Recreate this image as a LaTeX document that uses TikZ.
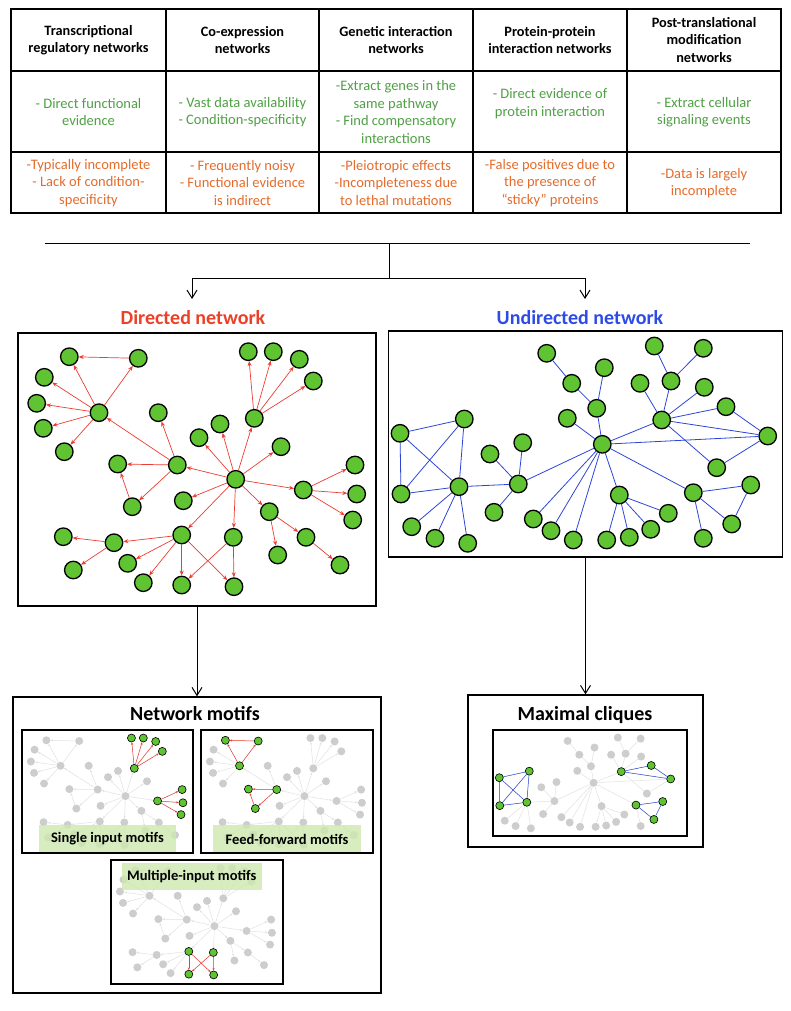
\documentclass[tikz,border=0pt]{standalone}
\usepackage{fontspec}
\setmainfont{Carlito}
\usetikzlibrary{arrows.meta}
\definecolor{gfill}{RGB}{95,195,50}
\definecolor{gtext}{RGB}{80,160,70}
\definecolor{otext}{RGB}{228,108,45}
\definecolor{redE}{RGB}{238,60,50}
\definecolor{blueE}{RGB}{45,70,215}
\definecolor{titleR}{RGB}{235,65,40}
\definecolor{titleB}{RGB}{45,75,230}
\definecolor{lgray}{RGB}{205,205,205}
\definecolor{egray}{RGB}{225,225,225}
\definecolor{lbl}{RGB}{205,232,175}

\def\DirNodes{n1/69.3/356.7,n2/138.3/358.3,n3/44.3/377.3,n4/36.7/403.3,n5/43.3/428.3,n6/64.3/451.7,hA/99/412.7,n7/158.3/412.7,n8/117.7/464,hB/177.3/465,n9/132.3/506.7,n10/199/437.7,n11/220/424,hC/254.3/418.3,n12/248.3/351.7,n13/273.3/351.7,n14/299.3/359.3,n15/313.3/381,n16/281/446.7,c/235.7/479.3,n17/183.3/500.7,hD/303.3/490,n18/355/465,n19/356.7/494,n20/352.7/520,hE/269.3/511.7,n21/306/537.3,n22/277.7/555,n23/340/565,hF/181.7/535,n24/233.3/537.3,hG/114/542.7,n25/63.3/536.7,n26/73.3/570,n27/127.7/563.3,n28/143.3/582.7,n29/181.7/585,n30/234/586.7}
\def\DirEdges{n2/n1,hA/n1,hA/n2,hA/n3,hA/n4,hA/n5,hA/n6,hB/hA,hB/n7,hB/n8,n9/n8,hB/n9,c/hB,c/n10,c/n11,c/hC,hC/n12,hC/n13,hC/n14,hC/n15,c/n16,c/n17,c/hD,hD/n18,hD/n19,hD/n20,c/hE,hE/n21,hE/n22,n21/n23,c/hF,c/n24,hF/hG,hG/n25,hG/n26,hF/n27,hF/n28,hF/n29,hF/n30,n24/n29,n24/n30}
\def\UndNodes{u1/546.7/353.3,u2/571.7/383.3,u3/604.3/367.7,u4/596.7/408.3,u5/567.3/418.3,C/602.3/444.3,u6/654.3/346,u7/703.3/348.3,u8/671/381,u9/640/383.3,u10/704.3/387.3,u11/726/406.7,H/661.7/420,u12/767.7/436,u13/716.7/467.7,L1/400/433.3,L2/464.3/419,L3/401/494,L4/459/486.7,u14/411.7/526.7,u15/435/538.3,u16/467.7/543.3,M/518.3/484,u17/490/454,u18/522.7/442.7,u19/494/512.3,u20/533.3/519,u21/551/530.7,u22/573.3/540,u23/619.3/495,u24/606.7/540,u25/629.3/537.3,u26/650.7/529.3,u27/668.3/513.3,u28/693.3/492.7,u29/750.7/485,u30/731.7/524,u31/703.3/538.3}
\def\UndEdges{u1/u2,u2/u4,u3/u4,u4/C,u5/C,C/H,C/u12,C/M,C/u20,C/u21,C/u22,C/u23,C/u28,H/u8,u8/u6,u8/u7,H/u9,H/u10,H/u11,H/u12,H/u13,u11/u12,u13/u12,L1/L2,L1/L3,L1/L4,L2/L3,L2/L4,L3/L4,L4/u14,L4/u15,L4/u16,L4/M,M/u17,M/u18,M/u19,u23/u24,u23/u25,u23/u26,u23/u27,u28/u29,u28/u30,u28/u31,u29/u30}

\newcommand\MiniDir[3]{%
  \foreach \nn/\px/\py in \DirNodes {\node[mnode] (#1-\nn) at ({#2+0.475*\px},{#3+0.455*\py}) {};}
  \foreach \aa/\bb in \DirEdges {\draw[medge] (#1-\aa) -- (#1-\bb);}
}
\newcommand\MiniUnd[3]{%
  \foreach \nn/\px/\py in \UndNodes {\node[mnode] (#1-\nn) at ({#2+0.466*\px},{#3+0.46*\py}) {};}
  \foreach \aa/\bb in \UndEdges {\draw[mline] (#1-\aa) -- (#1-\bb);}
}

\begin{document}
\begin{tikzpicture}[x=1pt,y=-1pt,
  tbl/.style={line width=1.8pt, draw=black},
  hdr/.style={align=center, font=\bfseries\fontsize{14.3}{17.6}\selectfont},
  pro/.style={align=center, text=gtext, font=\fontsize{14.5}{17.4}\selectfont},
  con/.style={align=center, text=otext, font=\fontsize{14.5}{17.4}\selectfont},
  box/.style={draw=black, line width=1.4pt, inner sep=0pt, fill=none},
  arr/.style={draw=black, line width=1pt, -{Straight Barb[length=8pt,width=10pt,line width=1pt]}},
  gnode/.style={circle, fill=gfill, draw=black, line width=1.3pt, minimum size=17.5pt, inner sep=0pt},
  redarrow/.style={draw=redE, line width=0.7pt, -{Stealth[length=5pt,width=4pt]}},
  blueline/.style={draw=blueE, line width=0.8pt},
  mnode/.style={circle, fill=lgray, minimum size=8pt, inner sep=0pt},
  medge/.style={draw=egray, line width=0.5pt, -{Stealth[length=2.5pt,width=2pt]}},
  mline/.style={draw=egray, line width=0.5pt},
  mgnode/.style={circle, fill=gfill, draw=black, line width=0.6pt, minimum size=8pt, inner sep=0pt},
  mredge/.style={draw=redE, line width=0.5pt, -{Stealth[length=2.5pt,width=2pt]}},
  mbedge/.style={draw=blueE, line width=0.5pt},
  lblbox/.style={fill=lbl, fill opacity=0.8, text opacity=1, inner sep=0pt, font=\bfseries\fontsize{14.5}{16}\selectfont},
  ttl/.style={font=\bfseries\fontsize{20}{23}\selectfont}
]
\useasboundingbox (0,0) rectangle (790,1011);
\fill[white] (0,0) rectangle (790,1011);

% ---------- table ----------
\draw[tbl] (11,9) rectangle (781,213);
\foreach \vx in {166,319,473,627} {\draw[tbl] (\vx,9) -- (\vx,213);}
\draw[tbl] (11,71) -- (781,71);
\draw[tbl] (11,152) -- (781,152);

\node[hdr] (h1) at (88.5,40) {Transcriptional\\regulatory networks};
\node[hdr] (h2) at (242.5,40) {Co-expression\\networks};
\node[hdr] (h3) at (396,40) {Genetic interaction\\networks};
\node[hdr] (h4) at (550,40) {Protein-protein\\interaction networks};
\node[hdr] (h5) at (704,40) {Post-translational\\modification\\networks};

\node[pro] (p1) at (88.5,112) {- Direct functional\\evidence};
\node[pro] (p2) at (242.5,112) {- Vast data availability\\- Condition-specificity};
\node[pro] (p3) at (396,112) {-Extract genes in the\\same pathway\\- Find compensatory\\interactions};
\node[pro] (p4) at (550,103.5) {- Direct evidence of\\protein interaction};
\node[pro] (p5) at (704,112) {- Extract cellular\\signaling events};

\node[con] (c1) at (88.5,183) {-Typically incomplete\\- Lack of condition-\\specificity};
\node[con] (c2) at (242.5,183) {- Frequently noisy\\- Functional evidence\\is indirect};
\node[con] (c3) at (396,183) {-Pleiotropic effects\\-Incompleteness due\\to lethal mutations};
\node[con] (c4) at (550,183) {-False positives due to\\the presence of\\“sticky” proteins};
\node[con] (c5) at (704,183) {-Data is largely\\incomplete};

% ---------- split connector ----------
\coordinate (hl) at (45,243);
\coordinate (hr) at (750,243);
\coordinate (hm) at (389,243);
\coordinate (bm) at (389,278);
\coordinate (bl) at (192,278);
\coordinate (br) at (585,278);
\coordinate (al) at (192,299);
\coordinate (ar) at (585,299);
\draw[line width=1pt] (hl) -- (hr);
\draw[line width=1pt] (hm) -- (bm);
\draw[line width=1pt] (bl) -- (br);
\draw[arr] (bl) -- (al);
\draw[arr] (br) -- (ar);

\node[text=titleR, font=\bfseries\fontsize{20}{22}\selectfont] (dirtitle) at (193,318) {Directed network};
\node[text=titleB, font=\bfseries\fontsize{20}{22}\selectfont] (undtitle) at (580,318) {Undirected network};

% ---------- boxes ----------
\node[box, minimum width=358pt, minimum height=273pt] (dirbox) at (197,469.5) {};
\node[box, minimum width=394pt, minimum height=226pt] (undbox) at (585.5,444) {};
\node[box, minimum width=368pt, minimum height=296pt] (motbox) at (197,845) {};
\node[box, minimum width=235pt, minimum height=152pt] (clqbox) at (585.5,771) {};
\draw[arr] (dirbox.south) -- (motbox.north);
\draw[arr] (undbox.south) -- (clqbox.north);

\node[ttl] (mottitle) at (195,714) {Network motifs};
\node[ttl] (clqtitle) at (585,715) {Maximal cliques};

% ---------- directed network ----------
\foreach \nn/\px/\py in \DirNodes {\node[gnode] (D-\nn) at (\px,\py) {};}
\foreach \aa/\bb in \DirEdges {\draw[redarrow] (D-\aa) -- (D-\bb);}

% ---------- undirected network ----------
\foreach \nn/\px/\py in \UndNodes {\node[gnode] (U-\nn) at (\px,\py) {};}
\foreach \aa/\bb in \UndEdges {\draw[blueline] (U-\aa) -- (U-\bb);}

% ---------- motif 1: single input ----------
\begin{scope}
\clip (22,730) rectangle (193,853);
\MiniDir{Ma}{13.5}{578}
\foreach \nn in {hC,n12,n13,n14,n15,hD,n18,n19,n20} {\node[mgnode] (Mag-\nn) at (Ma-\nn) {};}
\foreach \aa/\bb in {hC/n12,hC/n13,hC/n14,hC/n15,hD/n18,hD/n19,hD/n20} {\draw[mredge] (Mag-\aa) -- (Mag-\bb);}
\node[lblbox, minimum width=136.4pt, minimum height=27.7pt] (lab1) at (107.5,839) {Single input motifs};
\end{scope}
\node[box, minimum width=171pt, minimum height=123pt] (mb1) at (107.5,791.5) {};

% ---------- motif 2: feed-forward ----------
\begin{scope}
\clip (201,730) rectangle (373,853);
\MiniDir{Mb}{192.5}{578}
\foreach \nn in {n1,n2,hA,hB,n8,n9} {\node[mgnode] (Mbg-\nn) at (Mb-\nn) {};}
\foreach \aa/\bb in {n2/n1,hA/n1,hA/n2,hB/n8,hB/n9,n9/n8} {\draw[mredge] (Mbg-\aa) -- (Mbg-\bb);}
\node[lblbox, minimum width=147.4pt, minimum height=27.7pt] (lab2) at (287,839) {Feed-forward motifs};
\end{scope}
\node[box, minimum width=172pt, minimum height=123pt] (mb2) at (287,791.5) {};

% ---------- motif 3: multiple input ----------
\begin{scope}
\clip (111,860) rectangle (283,984);
\MiniDir{Mc}{102.5}{708}
\foreach \nn in {hF,n24,n29,n30} {\node[mgnode] (Mcg-\nn) at (Mc-\nn) {};}
\foreach \aa/\bb in {hF/n29,hF/n30,n24/n29,n24/n30} {\draw[mredge] (Mcg-\aa) -- (Mcg-\bb);}
\node[lblbox, minimum width=140pt, minimum height=26.7pt] (lab3) at (191.7,876.7) {Multiple-input motifs};
\end{scope}
\node[box, minimum width=172pt, minimum height=124pt] (mb3) at (197,922) {};

% ---------- cliques ----------
\begin{scope}
\clip (493,730) rectangle (687,836);
\MiniUnd{Q}{312.9}{578.4}
\foreach \nn in {L1,L2,L3,L4,H,u11,u12,u28,u29,u30} {\node[mgnode] (Qg-\nn) at (Q-\nn) {};}
\foreach \aa/\bb in {L1/L2,L1/L3,L1/L4,L2/L3,L2/L4,L3/L4,H/u11,H/u12,u11/u12,u28/u29,u28/u30,u29/u30} {\draw[mbedge] (Qg-\aa) -- (Qg-\bb);}
\end{scope}
\node[box, minimum width=194pt, minimum height=106pt] (cb) at (590,783) {};

\end{tikzpicture}
\end{document}
